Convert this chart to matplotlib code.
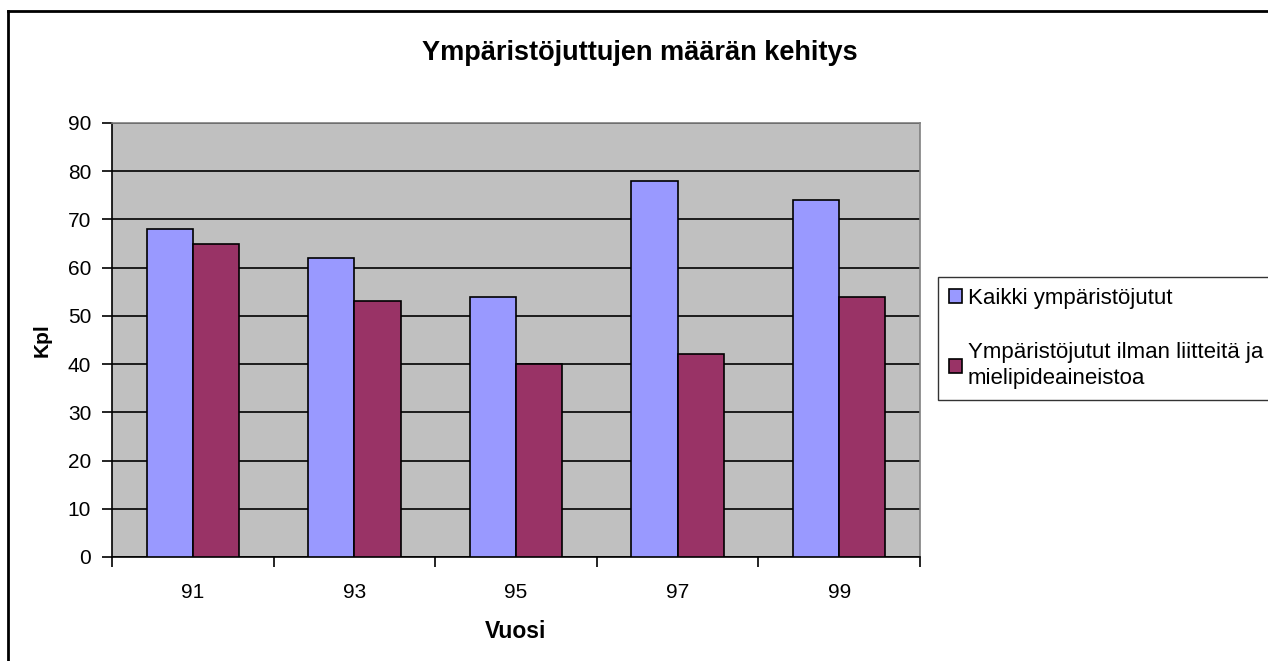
import numpy as np
import matplotlib
matplotlib.use('Agg')
import matplotlib.pyplot as plt
from matplotlib.lines import Line2D

matplotlib.rc('font', family=['Liberation Sans', 'DejaVu Sans'])

years = ['91', '93', '95', '97', '99']
kaikki = [68, 62, 54, 78, 74]
ilman = [65, 53, 40, 42, 54]
labels = ['Kaikki ympäristöjutut',
          'Ympäristöjutut ilman liitteitä ja\nmielipideaineistoa']

fig = plt.figure(figsize=(12.68, 6.61), dpi=100)
ax = fig.add_axes([112 / 1268, 1 - 557 / 661, 808 / 1268, 434 / 661])

x = np.arange(len(years))
w = 1 / 3.5
ax.bar(x - w / 2, kaikki, w, color='#9999FF', edgecolor='black', linewidth=1.2,
       label=labels[0], zorder=3)
ax.bar(x + w / 2, ilman, w, color='#993366', edgecolor='black', linewidth=1.2,
       label=labels[1], zorder=3)

ax.set_facecolor('#C0C0C0')
ax.set_xlim(-0.5, len(years) - 0.5)
ax.set_ylim(0, 90)
ax.set_yticks(range(0, 91, 10))
ax.yaxis.grid(True, color='black', linewidth=1.2, zorder=1)
ax.set_axisbelow(True)

ax.set_xticks(x)
ax.set_xticklabels(years)
ax.set_xticks(np.arange(-0.5, len(years)), minor=True)
ax.tick_params(axis='x', which='major', length=0, labelsize=15, pad=19)
ax.tick_params(axis='x', which='minor', length=7, width=1.2, direction='out')
ax.tick_params(axis='y', length=7, width=1.2, direction='out', labelsize=15, pad=8)

for s in ['top', 'right']:
    ax.spines[s].set_color('#808080')
    ax.spines[s].set_linewidth(1.2)
for s in ['left', 'bottom']:
    ax.spines[s].set_color('black')
    ax.spines[s].set_linewidth(1.2)

ax.set_ylabel('Kpl', fontsize=15, fontweight='bold', labelpad=12)
ax.set_xlabel('Vuosi', fontsize=16.5, fontweight='bold', labelpad=13)
fig.text(640 / 1268, 1 - 53 / 661,
         'Ympäristöjuttujen määrän kehitys', fontsize=19.5, fontweight='bold',
         ha='center', va='center')

leg = fig.legend(loc='upper left', bbox_to_anchor=(938 / 1268, 1 - 277 / 661),
                 fontsize=16, frameon=True, fancybox=False, edgecolor='black',
                 handlelength=0.6, handleheight=0.6, handletextpad=0.25,
                 labelspacing=1.5, borderpad=0.5, borderaxespad=0)
leg.get_frame().set_linewidth(1.0)
for t in leg.get_texts():
    t.set_linespacing(1.3)

# outer chart border (cut at right and bottom)
fig.add_artist(Line2D([8 / 1268, 8 / 1268], [0, 1 - 11 / 661], color='black',
                      linewidth=2, transform=fig.transFigure))
fig.add_artist(Line2D([8 / 1268, 1], [1 - 11 / 661, 1 - 11 / 661], color='black',
                      linewidth=2, transform=fig.transFigure))

fig.savefig('out.png', dpi=100, facecolor='white')
